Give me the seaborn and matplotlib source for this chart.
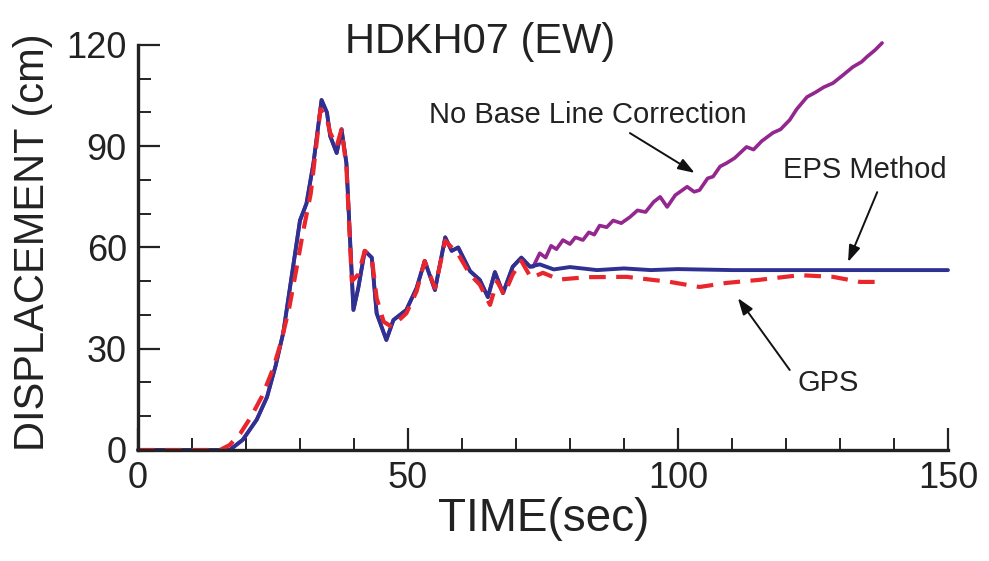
import pandas as pd
import matplotlib
matplotlib.use("Agg")
import matplotlib.pyplot as plt
from matplotlib.ticker import MultipleLocator
import seaborn as sns

# EPS method (blue solid)
EPS_T = [0, 10, 17, 19.4, 22, 23.9, 25.5, 26.9, 28.7, 30, 31.2, 32.5, 34, 35, 35.6, 36.8, 37.7,
         38.6, 39.9, 40.8, 42, 43.3, 44.2, 46, 47.3, 49.7, 51.6, 53.1, 55, 56.9, 58.1, 59.3,
         61.5, 63.3, 64.8, 66.1, 67.6, 69.4, 71, 72.6, 74.4, 77, 80, 85, 90, 95, 100, 110,
         120, 130, 140, 150]
EPS_Y = [0, 0, 0, 3, 9, 15.7, 25, 34.7, 54, 68, 73, 85, 103.7, 100, 93, 88, 95,
         85, 41.5, 48, 59, 57, 40.5, 32.6, 38.5, 41.5, 48, 56, 47.4, 63, 59, 60,
         53, 50.4, 45.3, 52.7, 46.5, 54.3, 57, 54.3, 55, 53.5, 54.2, 53.3, 53.8, 53.3, 53.6, 53.3,
         53.3, 53.3, 53.3, 53.3]

# GPS (red dashed)
GPS_T = [0, 10, 15.2, 17, 19, 21, 23, 25, 26.5, 28, 29.5, 30.5, 32, 33.8, 35, 35.6, 36.8, 37.7,
         38.6, 39.6, 40.8, 42, 43.3, 44.2, 45.5, 47, 49.7, 51.6, 53.1, 55, 56.9, 58.1, 59.3,
         61.5, 63.3, 65.2, 66.5, 67.8, 69.4, 71, 72.8, 75, 78, 83, 90.5, 98.5, 104, 109, 115,
         122.6, 128.7, 133.7, 138]
GPS_Y = [0, 0, 0, 1.5, 5, 10, 16, 24, 32, 42, 55, 64, 76, 101, 98, 94, 90, 95,
         84, 50, 52, 59, 57, 45, 38, 36.5, 40.5, 47, 56, 48, 62, 60, 58,
         52, 49, 43, 50, 46, 52, 56, 51, 52.5, 50.5, 51.2, 51.3, 49.8, 48.3, 49.5, 50.4,
         51.8, 51.3, 49.8, 49.8]

# No base line correction (purple) - same record as EPS until ~72 s
RAW_T = EPS_T[:40] + [73.2, 74.4, 75.5, 76.5, 77.5, 78.7, 80, 81, 82.4, 83.5, 84.5, 85.5, 86.8,
                      88, 89.5, 91.1, 92.5, 94, 95.5, 96.7, 98, 99.5, 101.7, 103, 104, 105.5,
                      106.5, 107.8, 109, 110.5, 112.7, 114, 115.5, 117.6, 119, 120.7, 122,
                      123.9, 125.5, 127, 128.7, 130.5, 132.4, 134, 135, 136.5, 137.8]
RAW_Y = EPS_Y[:40] + [54.3, 58.3, 57, 60.5, 59.5, 62.2, 61, 63, 62.2, 64.5, 63.8, 66.5, 66,
                      68, 67.2, 69, 71, 70.5, 73.5, 75, 72, 75.5, 78, 76.5, 77, 80.5,
                      81, 84, 85, 86.5, 89.8, 89, 91.5, 94, 95, 97.8, 101,
                      104.6, 106, 107.5, 108.7, 111, 113.5, 115, 116.5, 118.5, 120.6]

sns.set_style("ticks")
FONT = ["Liberation Sans", "DejaVu Sans"]
plt.rcParams["font.family"] = FONT
INK = "#222222"

fig = plt.figure(figsize=(9.89, 5.61), dpi=100)
ax = fig.add_axes([0.1395, 0.1979, 0.819, 0.7219])

raw = pd.DataFrame({"t": RAW_T, "y": RAW_Y})
eps = pd.DataFrame({"t": EPS_T, "y": EPS_Y})
gps = pd.DataFrame({"t": GPS_T, "y": GPS_Y})

sns.lineplot(data=raw, x="t", y="y", ax=ax, color="#93278f", lw=2.6, sort=False, clip_on=False)
sns.lineplot(data=eps, x="t", y="y", ax=ax, color="#2e3192", lw=2.8, sort=False, clip_on=False)
sns.lineplot(data=gps, x="t", y="y", ax=ax, color="#e8262b", lw=3.0, sort=False,
             linestyle=(0, (4, 2.5)), clip_on=False)

ax.set_xlim(0, 150)
ax.set_ylim(0, 120)
ax.xaxis.set_major_locator(MultipleLocator(50))
ax.xaxis.set_minor_locator(MultipleLocator(10))
ax.yaxis.set_major_locator(MultipleLocator(30))
ax.yaxis.set_minor_locator(MultipleLocator(10))

sns.despine(ax=ax)
for side in ["left", "bottom"]:
    ax.spines[side].set_linewidth(2.4)
    ax.spines[side].set_color(INK)

ax.tick_params(which="major", direction="in", length=16, width=1.6, color=INK,
               labelsize=26, pad=8, labelcolor=INK)
ax.tick_params(which="minor", direction="in", length=9, width=1.4, color=INK)

ax.set_xlabel("TIME(sec)", fontsize=33, color=INK)
ax.set_ylabel("DISPLACEMENT (cm)", fontsize=30, color=INK)
ax.xaxis.set_label_coords(0.501, -0.115)
ax.yaxis.set_label_coords(-0.105, 0.514)

ax.text(63.3, 120.9, "HDKH07 (EW)", ha="center", va="center", fontsize=30, color=INK)
ax.text(83.3, 99.3, "No Base Line Correction", ha="center", va="center", fontsize=21, color=INK)
ax.text(134.6, 83, "EPS Method", ha="center", va="center", fontsize=21, color=INK)
ax.text(127.8, 19.9, "GPS", ha="center", va="center", fontsize=21, color=INK)

arrow = dict(arrowstyle="-|>,head_length=1.0,head_width=0.35", color="#111111", lw=1.4,
             shrinkA=0, shrinkB=0)
ax.annotate("", xy=(103.1, 82.1), xytext=(91.1, 93.9), arrowprops=arrow)
ax.annotate("", xy=(131.5, 55.7), xytext=(136.9, 76.4), arrowprops=arrow)
ax.annotate("", xy=(111.1, 45.0), xytext=(120.7, 23.7), arrowprops=arrow)

fig.savefig("out.png", dpi=100)
